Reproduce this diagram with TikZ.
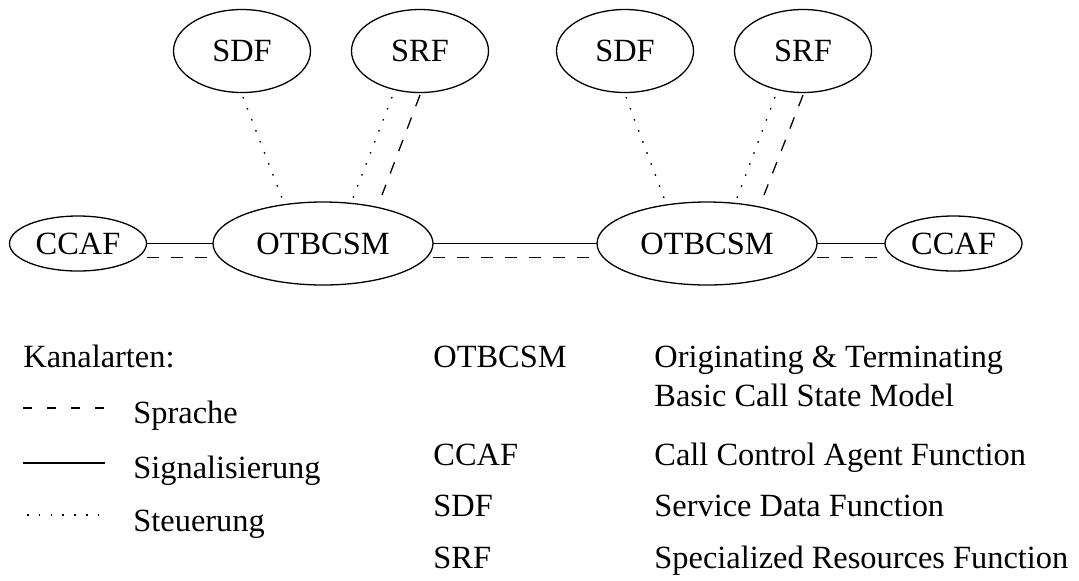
\documentclass[tikz,border=0pt]{standalone}
\usepackage{fontspec}
\setmainfont{Liberation Serif}
\usetikzlibrary{shapes.geometric,calc}
\begin{document}
\begin{tikzpicture}[x=0.5pt,y=-0.5pt,
  txt/.style={font=\fontsize{16.2}{19}\selectfont},
  ell/.style={ellipse,draw,line width=0.65pt,inner sep=0pt,outer sep=0pt,txt},
  bigell/.style={ell,minimum width=110pt,minimum height=41.5pt},
  topell/.style={ell,minimum width=68.5pt,minimum height=41.5pt},
  smallell/.style={ell,minimum width=68.5pt,minimum height=27.5pt},
  sig/.style={line width=0.65pt},
  voice/.style={line width=0.65pt,dash pattern=on 6pt off 6pt},
  ctrl/.style={line width=0.65pt,dash pattern=on 0.8pt off 5.1pt},
  legvoice/.style={line width=0.65pt,dash pattern=on 4.5pt off 7.5pt},
  lbl/.style={txt,anchor=base west,inner sep=0pt}]
\useasboundingbox (0,0) rectangle (1079,580);

% nodes
\node[smallell] (C1) at (78,243.5) {CCAF};
\node[bigell] (O1) at (323,243.5) {OTBCSM};
\node[topell] (SDF1) at (242,51) {SDF};
\node[topell] (SRF1) at (420,51) {SRF};
\node[topell] (SDF2) at (625,51) {SDF};
\node[topell] (SRF2) at (803,51) {SRF};
\node[bigell] (O2) at (707,243.5) {OTBCSM};
\node[smallell] (C2) at (953.5,243.5) {CCAF};

% horizontal channels
\draw[sig] (C1.east) -- (O1.west);
\draw[voice] ($(C1.east)+(0,14)$) -- ($(O1.west)+(0,14)$);
\draw[sig] (O1.east) -- (O2.west);
\draw[voice] ($(O1.east)+(0,14)$) -- ($(O2.west)+(0,14)$);
\draw[sig] (O2.east) -- (C2.west);
\draw[voice] ($(O2.east)+(0,14)$) -- ($(C2.west)+(0,14)$);

% slanted channels
\draw[ctrl] ($(SDF1.center)+(1,46)$) -- ($(O1.center)+(-41,-45.5)$);
\draw[ctrl] ($(SRF1.center)+(-28,46)$) -- ($(O1.center)+(30,-45.5)$);
\draw[voice] ($(SRF1.center)+(0,44)$) -- ($(O1.center)+(59,-48.5)$);
\draw[ctrl] ($(SDF2.center)+(1,46)$) -- ($(O2.center)+(-43,-45.5)$);
\draw[ctrl] ($(SRF2.center)+(-28,46)$) -- ($(O2.center)+(30,-45.5)$);
\draw[voice] ($(SRF2.center)+(0,44)$) -- ($(O2.center)+(57,-48.5)$);

% legend left
\node[lbl] (kan) at (23,367) {Kanalarten:};
\coordinate (lv1) at (23,408);
\coordinate (lv2) at (104,408);
\coordinate (ls1) at (23,463);
\coordinate (ls2) at (105,463);
\coordinate (lc1) at (27,515);
\coordinate (lc2) at (98,515);
\draw[legvoice] (lv1) -- (lv2);
\draw[sig] (ls1) -- (ls2);
\draw[ctrl] (lc1) -- (lc2);
\node[lbl] (spr) at (133,423) {Sprache};
\node[lbl] (sig) at (133,478) {Signalisierung};
\node[lbl] (ste) at (133,531) {Steuerung};

% legend right
\node[lbl] (a1) at (433,367) {OTBCSM};
\node[lbl] (d1) at (654,367) {Originating \& Terminating};
\node[lbl] (d1b) at (654,406) {Basic Call State Model};
\node[lbl] (a2) at (433,465) {CCAF};
\node[lbl] (d2) at (654,465) {Call Control Agent Function};
\node[lbl] (a3) at (433,516) {SDF};
\node[lbl] (d3) at (654,516) {Service Data Function};
\node[lbl] (a4) at (433,568) {SRF};
\node[lbl] (d4) at (654,568) {Specialized Resources Function};
\end{tikzpicture}
\end{document}
